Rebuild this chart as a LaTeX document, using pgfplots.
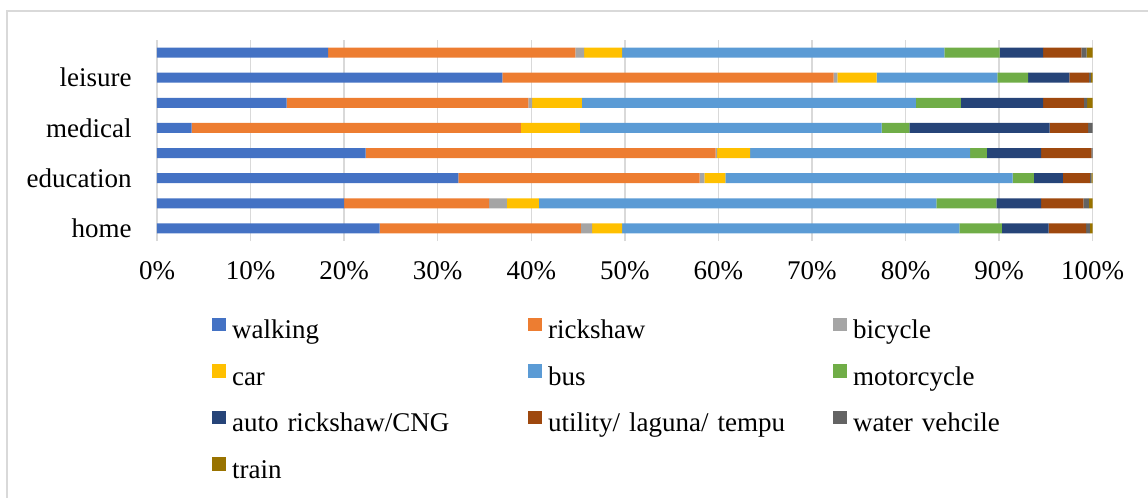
\documentclass[border=0pt]{standalone}
\usepackage{pgfplots}
\usepackage{pgfplotstable}
\pgfplotsset{compat=1.18}
\usepackage{fontspec}
\setmainfont{Liberation Serif}
\definecolor{cwalk}{HTML}{4472C4}
\definecolor{crick}{HTML}{ED7D31}
\definecolor{cbike}{HTML}{A5A5A5}
\definecolor{ccar}{HTML}{FFC000}
\definecolor{cbus}{HTML}{5B9BD5}
\definecolor{cmoto}{HTML}{70AD47}
\definecolor{cauto}{HTML}{264478}
\definecolor{cutil}{HTML}{9E480E}
\definecolor{cwater}{HTML}{636363}
\definecolor{ctrain}{HTML}{997300}
\definecolor{cgrid}{HTML}{D9D9D9}
\pgfplotstableread{
y walking rickshaw bicycle car bus moto auto util water train
1 23.8 21.5 1.2 3.2 36.05 4.55 5.0 4.0 0.4 0.3
2 20.0 15.5 1.9 3.4 42.5 6.4 4.8 4.5 0.6 0.4
3 32.2 25.8 0.5 2.25 30.7 2.25 3.1 2.9 0.15 0.15
4 22.3 37.4 0.16 3.54 23.5 1.8 5.8 5.35 0.15 0
5 3.7 35.2 0 6.3 32.25 2.95 15.0 4.1 0.5 0
6 13.85 25.85 0.4 5.3 35.7 4.8 8.8 4.37 0.33 0.6
7 36.9 35.4 0.4 4.2 12.9 3.3 4.4 2.1 0.2 0.2
8 18.3 26.4 0.95 4.05 34.45 5.9 4.65 4.1 0.55 0.65
}\datatable
\begin{document}
\begin{tikzpicture}[font=\fontsize{13.5pt}{16pt}\selectfont]
\useasboundingbox (-78.5pt,-128.5pt) rectangle (495.5pt,120.5pt);
\draw[cgrid, line width=0.75pt] (-75pt,-130pt) -- (-75pt,115pt) -- (500pt,115pt);
\begin{axis}[
  at={(0pt,0pt)}, anchor=south west,
  scale only axis,
  width=467.85pt, height=100.5pt,
  xbar stacked, bar width=5pt,
  xmin=0, xmax=100, ymin=0.5, ymax=8.5,
  xtick={0,10,20,30,40,50,60,70,80,90,100},
  xticklabels={0\%,10\%,20\%,30\%,40\%,50\%,60\%,70\%,80\%,90\%,100\%},
  ytick={1,3,5,7},
  yticklabels={home,education,medical,leisure},
  xmajorgrids, ymajorgrids=false,
  grid style={cgrid, line width=0.75pt},
  axis line style={draw=none},
  major tick length=0pt,
  xticklabel style={anchor=north, inner sep=0pt, yshift=-10pt, font=\fontsize{13.5pt}{16pt}\selectfont},
  yticklabel style={anchor=east, inner sep=0pt, xshift=-12.5pt, font=\fontsize{13.5pt}{16pt}\selectfont},
  legend columns=3,
  legend style={at={(0.0588,-0.3816)}, anchor=north west, draw=none, fill=none,
    inner sep=0pt, outer sep=0pt, column sep=3pt, row sep=9.35pt,
    font=\fontsize{13.5pt}{16pt}\selectfont,
    nodes={inner sep=0pt, text width=138pt, align=left, text height=10pt, text depth=3.5pt},
    /tikz/column 2/.style={column sep=10pt},
    /tikz/column 4/.style={column sep=4.5pt}},
  legend image code/.code={\fill[#1] (0pt,0.5pt) rectangle (7pt,7.2pt);},
  every axis plot/.append style={draw=none},
]
\addplot[fill=cwalk] table[x=walking, y=y] {\datatable};
\addplot[fill=crick] table[x=rickshaw, y=y] {\datatable};
\addplot[fill=cbike] table[x=bicycle, y=y] {\datatable};
\addplot[fill=ccar] table[x=car, y=y] {\datatable};
\addplot[fill=cbus] table[x=bus, y=y] {\datatable};
\addplot[fill=cmoto] table[x=moto, y=y] {\datatable};
\addplot[fill=cauto] table[x=auto, y=y] {\datatable};
\addplot[fill=cutil] table[x=util, y=y] {\datatable};
\addplot[fill=cwater] table[x=water, y=y] {\datatable};
\addplot[fill=ctrain] table[x=train, y=y] {\datatable};
\legend{walking,rickshaw,bicycle,car,bus,motorcycle,auto rickshaw/CNG,utility/ laguna/ tempu,water vehcile,train}
\end{axis}
\end{tikzpicture}
\end{document}
